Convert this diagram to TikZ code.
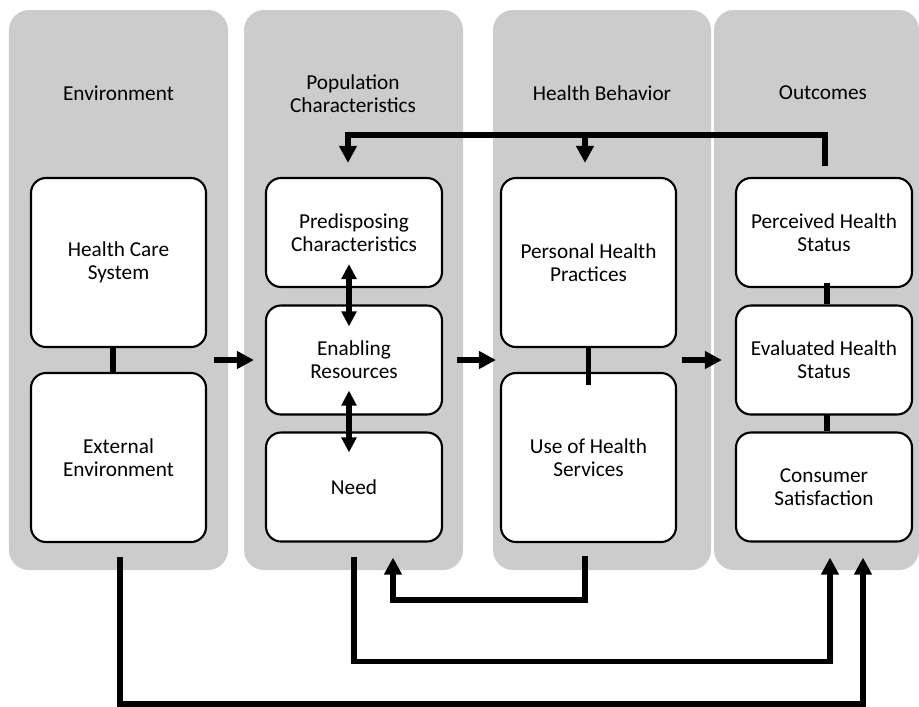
\documentclass[tikz,border=0pt]{standalone}
\usepackage{fontspec}
\setmainfont{Carlito}
\usetikzlibrary{arrows.meta}
\definecolor{panelgray}{RGB}{204,204,204}
\begin{document}
\begin{tikzpicture}[x=0.2mm,y=-0.2mm]
  \tikzstyle{every node}+=[inner sep=0pt, font=\fontsize{12.1}{13}\selectfont, align=center]
  \tikzstyle{panel}=[fill=panelgray, rounded corners=4mm, minimum height=11.2cm]
  \tikzstyle{bigbox}=[draw, fill=white, line width=1.2pt, rounded corners=3mm, minimum width=3.5cm, minimum height=3.38cm]
  \tikzstyle{smallbox}=[draw, fill=white, line width=1.2pt, rounded corners=3mm, minimum width=3.52cm, minimum height=2.18cm]
  \tikzstyle{link}=[line width=3pt]
  \tikzstyle{arr}=[line width=3pt, -{Triangle[length=3.4mm, width=3.4mm]}]
  \tikzstyle{darr}=[line width=3pt, {Triangle[length=3mm, width=2.9mm]}-{Triangle[length=3mm, width=2.9mm]}]
  \useasboundingbox (0,0) rectangle (919,706);
  \node [panel, minimum width=4.38cm] (envpanel) at (118.5,290) {};
  \node [panel, minimum width=4.38cm] (poppanel) at (353.5,290) {};
  \node [panel, minimum width=4.36cm] (behpanel) at (602,290) {};
  \node [panel, minimum width=4.1cm] (outpanel) at (816.5,290) {};
  \node (envtitle) at (118.5,93) {Environment};
  \node (poptitle) at (353,94) {Population\\Characteristics};
  \node (behtitle) at (602,93) {Health Behavior};
  \node (outtitle) at (823,93) {Outcomes};
  \node [bigbox] (hcs) at (118.5,262.5) {Health Care\\System};
  \node [bigbox] (ext) at (118.5,457.5) {External\\Environment};
  \node [smallbox] (pre) at (354,232.5) {Predisposing\\Characteristics};
  \node [smallbox] (ena) at (354,360) {Enabling\\Resources};
  \node [smallbox] (need) at (354,487) {Need};
  \node [bigbox] (php) at (588.5,262.5) {Personal Health\\Practices};
  \node [bigbox] (use) at (588.5,457.5) {Use of Health\\Services};
  \node [smallbox] (per) at (824,232.5) {Perceived Health\\Status};
  \node [smallbox] (eva) at (824,360) {Evaluated Health\\Status};
  \node [smallbox] (con) at (824,487) {Consumer\\Satisfaction};
  \coordinate (fbleft) at (348,135);
  \coordinate (fbmid) at (585,135);
  \draw [arr, shorten <=6pt, shorten >=8pt] ([xshift=0.2mm]per.north) |- (fbleft) -- (fbleft |- pre.north);
  \draw [arr, shorten >=8pt] (fbmid) -- (fbmid |- php.north);
  \draw [arr, shorten <=1.4mm, shorten >=2.2mm] (hcs.south east |- ena) -- (ena.west);
  \draw [arr, shorten <=2.8mm, shorten >=0.8mm] (ena.east) -- (php.south west |- ena);
  \draw [arr, shorten <=1mm, shorten >=2.6mm] (use.north east |- eva) -- (eva.west);
  \draw [darr, shorten <=-4.8mm, shorten >=-4.4mm] ([xshift=-1mm]pre.south) -- ([xshift=-1mm]ena.north);
  \draw [darr, shorten <=-5mm, shorten >=-4.2mm] ([xshift=-1mm]ena.south) -- ([xshift=-1mm]need.north);
  \draw [link] ([xshift=-1.1mm]hcs.south) -- ([xshift=-1.1mm]ext.north);
  \draw [link, shorten >=-2.6mm] (php.south) -- (use.north);
  \draw [link, shorten <=-1mm] ([xshift=0.6mm]per.south) -- ([xshift=0.6mm]eva.north);
  \draw [link, shorten <=-0.4mm] ([xshift=0.6mm]eva.south) -- ([xshift=0.6mm]con.north);
  \draw [arr, shorten <=2.6mm, shorten >=3mm] ([xshift=-0.7mm]use.south) -- ++(0,57) -| ([xshift=7.8mm]need.south);
  \draw [arr, shorten <=2.8mm, shorten >=3mm] (need.south) -- ++(0,119) -| ([xshift=1.2mm]con.south);
  \draw [arr, shorten <=2.8mm, shorten >=3mm] ([xshift=0.3mm]ext.south) -- ++(0,161) -| ([xshift=7.8mm]con.south);
\end{tikzpicture}
\end{document}
